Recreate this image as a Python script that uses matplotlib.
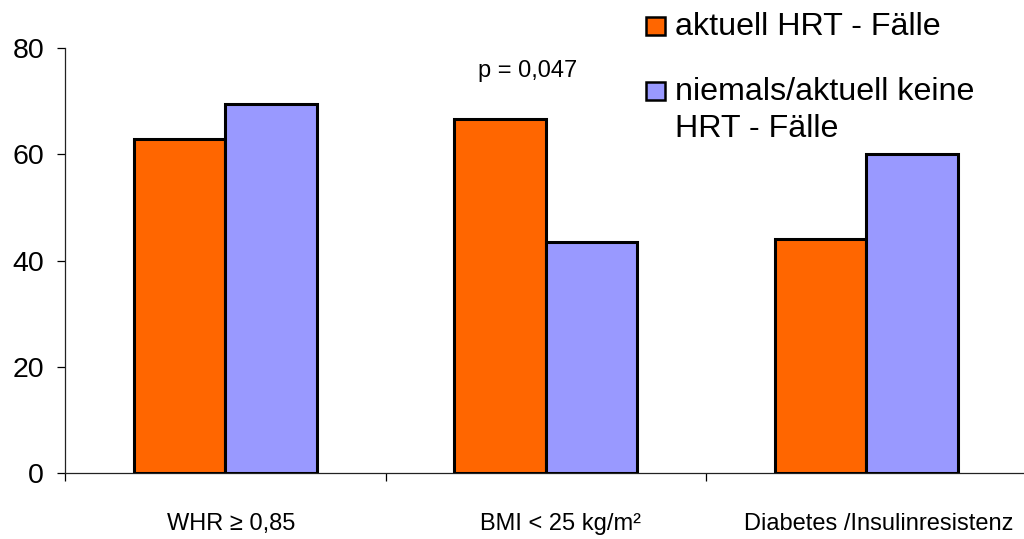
import matplotlib
matplotlib.use("Agg")
import matplotlib.pyplot as plt
from matplotlib.patches import Rectangle
from matplotlib.transforms import ScaledTranslation
import numpy as np

plt.rcParams['font.family'] = ['Liberation Sans', 'DejaVu Sans']

categories = ["WHR \u2265 0,85", "BMI < 25 kg/m\u00b2", "Diabetes /Insulinresistenz"]
current_hrt = [62.9, 66.6, 44.1]
never_hrt = [69.5, 43.6, 60.1]
series_labels = ["aktuell HRT - F\u00e4lle", "niemals/aktuell keine\nHRT - F\u00e4lle"]
colors = ["#FF6600", "#9999FF"]
yticks = [0, 20, 40, 60, 80]
p_label = "p = 0,047"
label_shift_px = [6, 15, 12]

W, H = 1024, 539
fig = plt.figure(figsize=(W / 100, H / 100), dpi=100)
ax = fig.add_axes([65 / W, 66 / H, 961.5 / W, 424.7 / H])

x = np.arange(len(categories))
bw = 0.285
ax.bar(x - bw / 2, current_hrt, bw, color=colors[0], edgecolor="black", linewidth=2.2, zorder=3)
ax.bar(x + bw / 2, never_hrt, bw, color=colors[1], edgecolor="black", linewidth=2.2, zorder=3)

ax.set_xlim(-0.5, len(categories) - 0.5)
ax.set_ylim(0, 80)
ax.set_yticks(yticks)
ax.tick_params(axis="y", direction="out", length=6, width=0.9, pad=9, labelsize=20.5)

ax.set_xticks(x)
ax.set_xticklabels(categories)
ax.tick_params(axis="x", which="major", length=0, pad=29, labelsize=17)
ax.set_xticks(np.arange(-0.5, len(categories)), minor=True)
ax.tick_params(axis="x", which="minor", direction="out", length=6, width=0.9)

for lbl, dx in zip(ax.get_xticklabels(), label_shift_px):
    lbl.set_transform(lbl.get_transform() + ScaledTranslation(dx / 100, 0, fig.dpi_scale_trans))

for s in ["top", "right"]:
    ax.spines[s].set_visible(False)
for s in ["left", "bottom"]:
    ax.spines[s].set_linewidth(0.9)
    ax.spines[s].set_color("#222222")

ax.text(0.944, 74.6, p_label, ha="center", va="baseline", fontsize=17)

# legend drawn in figure pixel space
def px(xp, yp):
    return xp / W, 1 - yp / H

for i, (lab, c) in enumerate(zip(series_labels, colors)):
    top = [17, 82][i]
    x0, y0 = px(646, top + 18)
    fig.add_artist(Rectangle((x0, y0), 19 / W, 18 / H, transform=fig.transFigure,
                             facecolor=c, edgecolor="black", linewidth=1.8))
    base = [35, 100][i]
    for j, line in enumerate(lab.split("\n")):
        tx, ty = px(675, base + 37 * j)
        fig.text(tx, ty, line, ha="left", va="baseline", fontsize=23.2)

fig.savefig("out.png", dpi=100)
